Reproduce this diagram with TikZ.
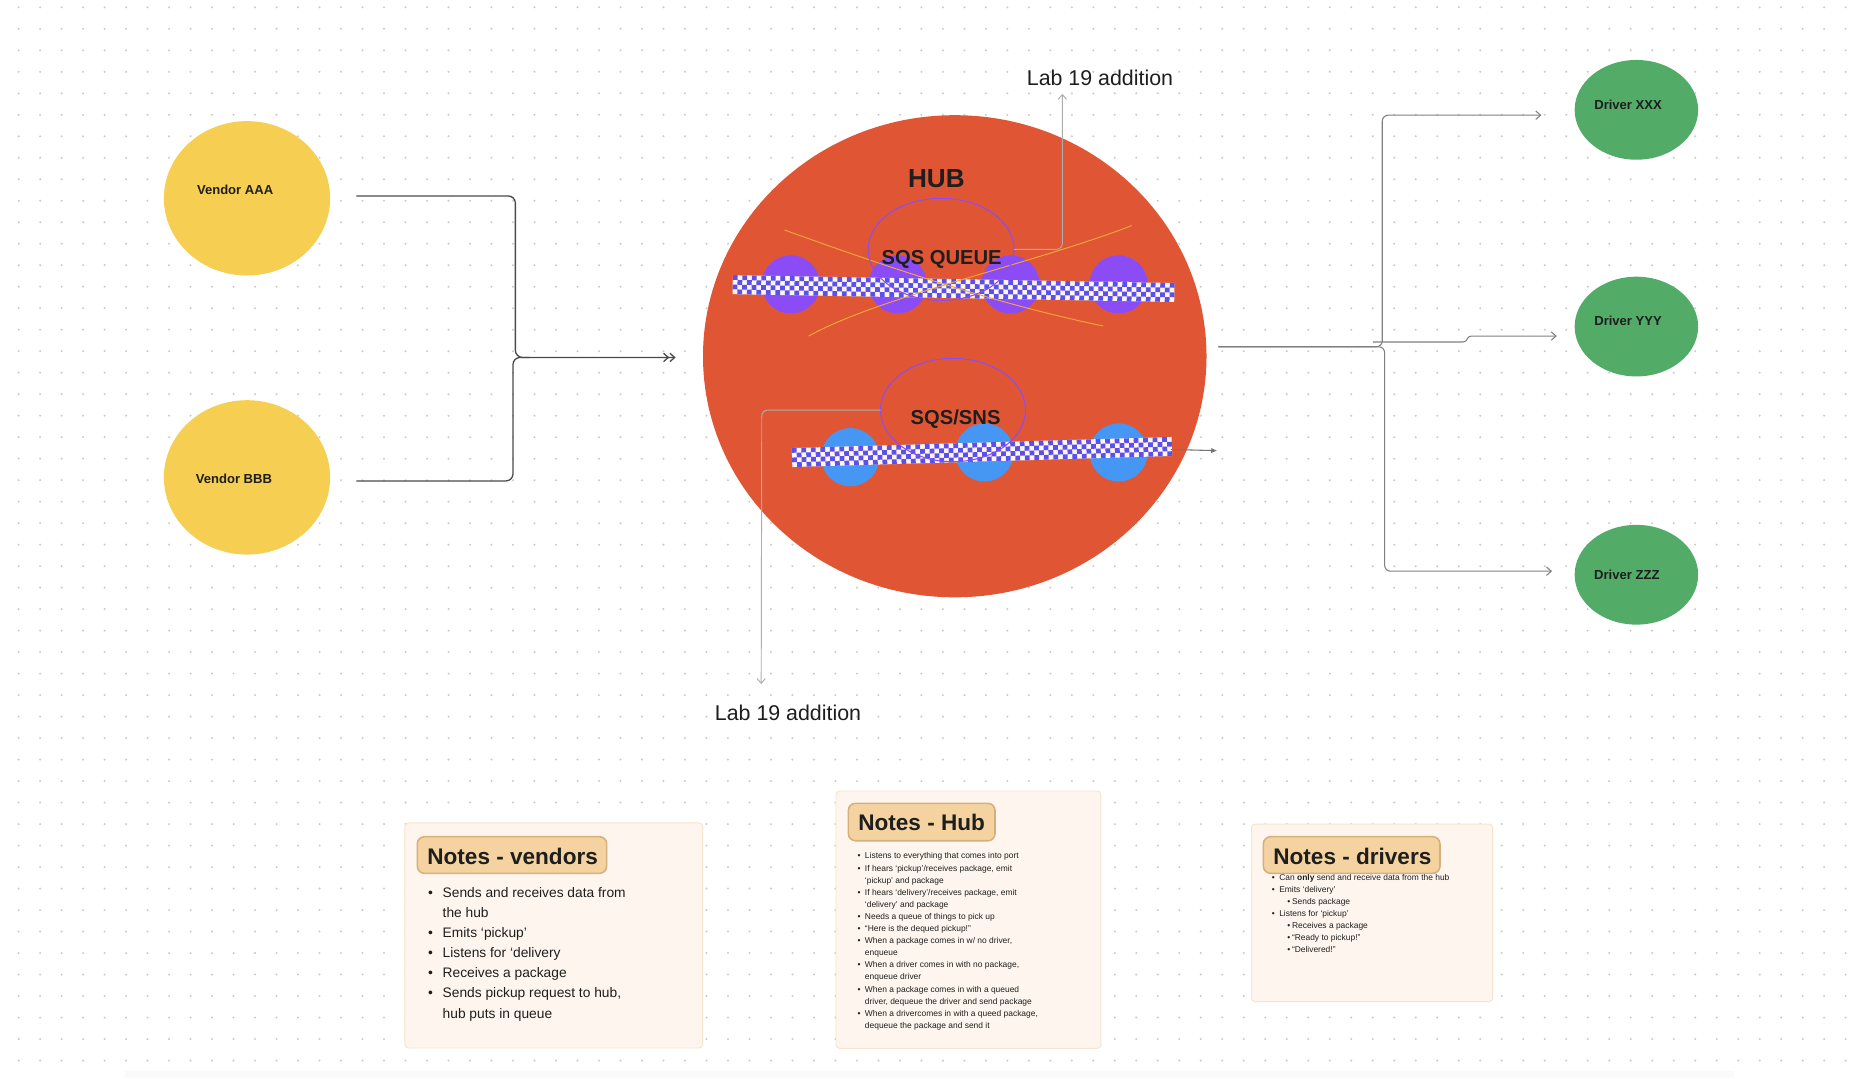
\documentclass[tikz,border=0pt]{standalone}
\usepackage{fontspec}
\setmainfont{Liberation Sans}
\usetikzlibrary{arrows.meta,shapes.geometric}
\definecolor{hubred}{HTML}{E05634}
\definecolor{vyellow}{HTML}{F6CF52}
\definecolor{dgreen}{HTML}{52AC67}
\definecolor{violetA}{HTML}{8B4CF6}
\definecolor{blueA}{HTML}{4597F3}
\definecolor{tapeblue}{HTML}{5A4FEF}
\definecolor{tapecream}{HTML}{FFF6E9}
\definecolor{orangeline}{HTML}{F3A53A}
\definecolor{ink}{HTML}{1E1E1E}
\definecolor{linedark}{HTML}{4A4A4A}
\definecolor{linegray}{HTML}{808080}
\definecolor{lablinegray}{HTML}{ADADAD}
\definecolor{notefill}{HTML}{FEF6EE}
\definecolor{noteborder}{HTML}{F6E4CF}
\definecolor{badgefill}{HTML}{F5D3A0}
\definecolor{badgeborder}{HTML}{D6AF7E}
\definecolor{dotgray}{HTML}{CBCBCB}
\newcommand\drawtape[5]{%
  \begin{scope}[shift={#1}, rotate=#2]
    \fill[tapecream] (0,-8) rectangle (#3,8);
    \foreach \i in {0,2,...,#4} {\fill[tapeblue] ({4*\i},-8) rectangle ++(4,4) ({4*\i},0) rectangle ++(4,4);}
    \foreach \i in {1,3,...,#5} {\fill[tapeblue] ({4*\i},-4) rectangle ++(4,4) ({4*\i},4) rectangle ++(4,4);}
  \end{scope}}
\newcommand\nbul[1]{\makebox[#1][l]{\textbullet}}
\begin{document}
\begin{tikzpicture}[x=1pt,y=-1pt,
  every node/.style={inner sep=0pt, outer sep=0pt},
  blob/.style={ellipse, draw=none, inner sep=0pt},
  lbl/.style={font=\fontsize{11}{13}\selectfont\bfseries, text=ink},
  conn/.style={draw=linedark, line width=1.1pt, rounded corners=6pt},
  dconn/.style={draw=linegray, line width=0.9pt, rounded corners=5pt, -{Straight Barb[length=4pt,width=7pt]}},
  labline/.style={draw=lablinegray, line width=0.8pt, rounded corners=5pt, -{Straight Barb[length=4pt,width=7pt]}},
  ring/.style={ellipse, draw=violetA, line width=0.9pt, inner sep=0pt},
  orb/.style={circle, minimum size=49pt, inner sep=0pt},
  notebox/.style={fill=notefill, draw=noteborder, line width=0.8pt, rounded corners=3pt, anchor=north west},
  badge/.style={fill=badgefill, draw=badgeborder, line width=1.3pt, rounded corners=6pt, anchor=north west},
  badgetext/.style={font=\fontsize{19}{22}\selectfont\bfseries, text=ink, anchor=west},
  labtext/.style={font=\fontsize{18}{20}\selectfont, text=ink},
  hubtext/.style={font=\fontsize{17}{19}\selectfont\bfseries, text=ink},
]
\useasboundingbox (0,0) rectangle (1568,908);
\fill[white] (0,0) rectangle (1568,908);
% dot grid
\foreach \i in {0,...,86} {\foreach \j in {0,...,49} {\fill[dotgray] ({15.7+18.1*\i},{6.15+18.1*\j}) circle[radius=0.95pt];}}
\fill[black!2] (105,902) rectangle (1460,908);

% vendors
\node[blob, fill=vyellow, minimum width=140pt, minimum height=130pt] (vaaa) at (208,167) {};
\node[blob, fill=vyellow, minimum width=140pt, minimum height=130pt] (vbbb) at (208,402) {};
\node[lbl] (vaaat) at (198,159.7) {Vendor AAA};
\node[lbl] (vbbbt) at (197,403) {Vendor BBB};

% drivers
\node[blob, fill=dgreen, minimum width=104pt, minimum height=84pt] (dxxx) at (1378,92.5) {};
\node[blob, fill=dgreen, minimum width=104pt, minimum height=84pt] (dyyy) at (1378,275) {};
\node[blob, fill=dgreen, minimum width=104pt, minimum height=84pt] (dzzz) at (1378,484) {};
\node[lbl] (dxxxt) at (1371,88.5) {Driver XXX};
\node[lbl] (dyyyt) at (1371,270.5) {Driver YYY};
\node[lbl] (dzzzt) at (1370,484) {Driver ZZZ};

% hub
\node[blob, fill=hubred, minimum width=424pt, minimum height=406pt] (hub) at (804,300) {};
\node[font=\fontsize{22}{24}\selectfont\bfseries, text=ink] (hubt) at (788.5,150.7) {HUB};

% queue circles
\node[orb, fill=violetA] (p1) at (666,239.5) {};
\node[orb, fill=violetA] (p2) at (756,239.5) {};
\node[orb, fill=violetA] (p3) at (851,239.5) {};
\node[orb, fill=violetA] (p4) at (942,239.5) {};
\node[font=\fontsize{9}{10}\selectfont\bfseries, text=white] (p4t) at (942,240.8) {P111};
\node[orb, fill=blueA] (b1) at (716,385) {};
\node[orb, fill=blueA] (b2) at (829,381) {};
\node[orb, fill=blueA] (b3) at (942,381) {};

% tapes
\drawtape{(617,239.7)}{-1.02}{372}{92}{91}
\drawtape{(667,385.3)}{1.67}{320}{78}{79}

% orange crossing lines
\draw[orangeline, line width=0.8pt] (660.7,193.7) .. controls (750,226) and (840,256) .. (929,274.5);
\draw[orangeline, line width=0.8pt] (681,283) .. controls (740,250) and (870,222) .. (953,190);

% rings and labels
\node[ring, minimum width=123pt, minimum height=86pt] (qring) at (792.5,210) {};
\node[ring, minimum width=122pt, minimum height=87pt] (snsring) at (802.5,345.3) {};
\node[hubtext] (qt) at (793,218.8) {SQS QUEUE};
\node[hubtext] (snst) at (804.7,353) {SQS/SNS};

% Lab 19 additions
\node[labtext] (labtopt) at (926.3,65.5) {Lab 19 addition};
\node[labtext] (labbott) at (663.6,600.2) {Lab 19 addition};
\coordinate (labtop) at (894.6,79);
\coordinate (labbot) at (641,576);
\draw[labline] (qring.east) -- (894.6,210) -- (labtop);
\draw[labline] (snsring.west) -- (641.5,345.3) -- (labbot);

% tape arrow
\coordinate (tapeend) at (986,378.5);
\coordinate (tapetip) at (1025,379.5);
\draw[draw=linegray!90!black, line width=0.9pt, -{Latex[length=5pt,width=4.5pt]}] (tapeend) -- (tapetip);

% vendor connectors
\coordinate (aaaout) at (300,165);
\coordinate (bbbout) at (300,405);
\coordinate (vend) at (569,301);
\draw[conn, -{Straight Barb[length=4pt,width=7pt] Straight Barb[length=4pt,width=7pt]}] (aaaout) -- (434,165) -- (434,301) -- (vend);
\draw[conn] (bbbout) -- (432,405) -- (432,301) -- (446,301);

% driver connectors
\coordinate (hubout) at (1026,292);
\coordinate (xxxin) at (1298,97);
\coordinate (yyyin) at (1311,283);
\coordinate (zzzin) at (1307,481);
\draw[dconn] (hubout) -- (1164,292) -- (1164,97) -- (xxxin);
\draw[dconn, rounded corners=2pt] (1156,288) -- (1234,288) -- (1237,283) -- (yyyin);
\draw[dconn] (hubout) -- (1166,292) -- (1166,481) -- (zzzin);

% notes - vendors
\node[notebox, minimum width=250.7pt, minimum height=189.5pt] (nvbox) at (341,693) {};
\node[badge, minimum width=159.5pt, minimum height=30.8pt] (nvbadge) at (351.4,704.6) {};
\node[badgetext] (nvtitle) at (359.9,720.8) {Notes - vendors};
\node[anchor=north west, align=left, font=\fontsize{11.6}{17}\selectfont, text=ink] (nvlist) at (360.5,747) {%
\nbul{12.3pt}Sends and receives data from\\
\hspace*{12.3pt}the hub\\
\nbul{12.3pt}Emits ‘pickup’\\
\nbul{12.3pt}Listens for ‘delivery\\
\nbul{12.3pt}Receives a package\\
\nbul{12.3pt}Sends pickup request to hub,\\
\hspace*{12.3pt}hub puts in queue};

% notes - hub
\node[notebox, minimum width=223pt, minimum height=216.7pt] (nhbox) at (704,666.1) {};
\node[badge, minimum width=123.5pt, minimum height=31.5pt] (nhbadge) at (714.4,676.5) {};
\node[badgetext] (nhtitle) at (722.8,692.8) {Notes - Hub};
\node[anchor=north west, align=left, font=\fontsize{7.1}{10.19}\selectfont, text=ink] (nhlist) at (722.3,718.2) {%
\nbul{6.1pt}Listens to everything that comes into port\\
\nbul{6.1pt}If hears ‘pickup’/receives package, emit\\
\hspace*{6.1pt}‘pickup’ and package\\
\nbul{6.1pt}If hears ‘delivery’/receives package, emit\\
\hspace*{6.1pt}‘delivery’ and package\\
\nbul{6.1pt}Needs a queue of things to pick up\\
\nbul{6.1pt}“Here is the dequed pickup!”\\
\nbul{6.1pt}When a package comes in w/ no driver,\\
\hspace*{6.1pt}enqueue\\
\nbul{6.1pt}When a driver comes in with no package,\\
\hspace*{6.1pt}enqueue driver\\
\nbul{6.1pt}When a package comes in with a queued\\
\hspace*{6.1pt}driver, dequeue the driver and send package\\
\nbul{6.1pt}When a drivercomes in with a queed package,\\
\hspace*{6.1pt}dequeue the package and send it};

% notes - drivers
\node[notebox, minimum width=203pt, minimum height=149.5pt] (ndbox) at (1054,694) {};
\node[anchor=north west, align=left, font=\fontsize{7.1}{10.1}\selectfont, text=ink] (ndlist) at (1071,736.4) {%
\nbul{6.3pt}Can \textbf{only} send and receive data from the hub\\
\nbul{6.3pt}Emits ‘delivery’\\
\hspace*{13pt}\nbul{4pt}Sends package\\
\nbul{6.3pt}Listens for ‘pickup’\\
\hspace*{13pt}\nbul{4pt}Receives a package\\
\hspace*{13pt}\nbul{4pt}“Ready to pickup!”\\
\hspace*{13pt}\nbul{4pt}“Delivered!”};
\node[badge, minimum width=148.7pt, minimum height=30.8pt] (ndbadge) at (1063.9,704.6) {};
\node[badgetext] (ndtitle) at (1072.3,720.8) {Notes - drivers};
\end{tikzpicture}
\end{document}
